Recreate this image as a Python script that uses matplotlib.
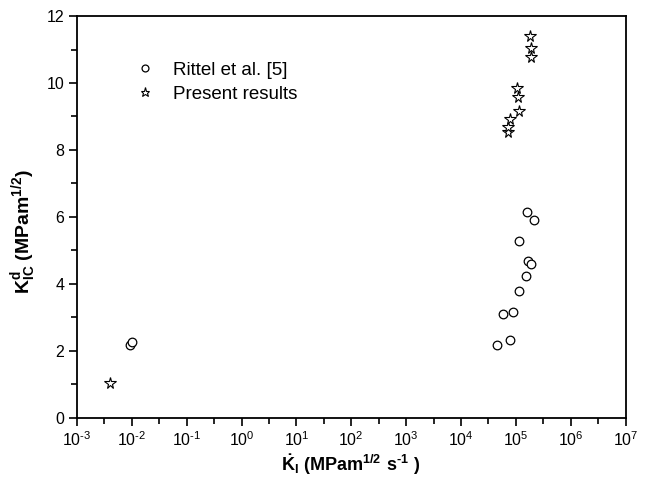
import numpy as np
import matplotlib
matplotlib.use("Agg")
import matplotlib.pyplot as plt
from matplotlib.ticker import FixedLocator, FuncFormatter, MultipleLocator

plt.rcParams['font.family'] = ['Liberation Sans', 'DejaVu Sans']

# Rittel et al. [5]
rittel_rate = [9.4e-3, 1.0e-2, 4.6e4, 7.7e4, 5.9e4, 8.9e4, 1.16e5, 1.54e5, 1.65e5, 1.93e5, 1.13e5, 1.58e5, 2.16e5]
rittel_k = [2.18, 2.26, 2.19, 2.33, 3.09, 3.15, 3.80, 4.25, 4.68, 4.59, 5.28, 6.14, 5.90]

# Present results
present_rate = [4.0e-3, 7.2e4, 7.3e4, 8.0e4, 1.13e5, 1.11e5, 1.06e5, 1.93e5, 1.90e5, 1.85e5]
present_k = [1.05, 8.55, 8.68, 8.93, 9.17, 9.58, 9.86, 10.78, 11.04, 11.41]

x_ticks = [10.0 ** e for e in range(-3, 8)]
y_ticks = [0, 2, 4, 6, 8, 10, 12]

HY = '\u2010'

fig = plt.figure(figsize=(6.49, 4.82), dpi=100)
ax = fig.add_axes([0.1186, 0.1328, 0.8452, 0.834])

ax.plot(rittel_rate, rittel_k, linestyle='none', marker='o', markersize=6.2,
        markerfacecolor='white', markeredgecolor='black', markeredgewidth=0.9,
        label='Rittel et al. [5]')
ax.plot(present_rate, present_k, linestyle='none', marker='*', markersize=8.5,
        markerfacecolor='white', markeredgecolor='black', markeredgewidth=0.8,
        label='Present results')

ax.set_xscale('log')
ax.set_xlim(1e-3, 1e7)
ax.set_ylim(0, 12)


def fmt(v, p):
    e = int(round(np.log10(v)))
    s = str(e).replace('-', HY)
    return r'$\mathregular{10^{%s}}$' % s


ax.xaxis.set_major_locator(FixedLocator(x_ticks))
ax.xaxis.set_minor_locator(FixedLocator([10.0 ** (e + 0.5) for e in range(-3, 7)]))
ax.xaxis.set_major_formatter(FuncFormatter(fmt))
ax.yaxis.set_major_locator(FixedLocator(y_ticks))
ax.yaxis.set_minor_locator(MultipleLocator(1))

ax.tick_params(which='both', direction='out', width=1.2, colors='black',
               top=False, right=False)
ax.tick_params(which='major', length=6, labelsize=11.5, pad=3)
ax.tick_params(which='minor', length=4)
for s in ax.spines.values():
    s.set_linewidth(1.3)

ax.set_xlabel(r'$\mathregular{\dot{K}_I}$ $\mathregular{(MPam^{1/2}\ s^{%s1}\ )}$' % HY,
              fontsize=13, fontweight='bold', labelpad=2)
ax.set_ylabel(r'$\mathregular{K^d_{IC}}$ $\mathregular{(MPam^{1/2})}$',
              fontsize=14, fontweight='bold')
ax.yaxis.set_label_coords(-0.071, 0.463)

ax.legend(loc='upper left', bbox_to_anchor=(0.073, 0.928), frameon=False,
          fontsize=13.5, handletextpad=0.9, labelspacing=0.35, markerscale=0.8,
          handlelength=1.2)

fig.savefig('out.png', dpi=100)
